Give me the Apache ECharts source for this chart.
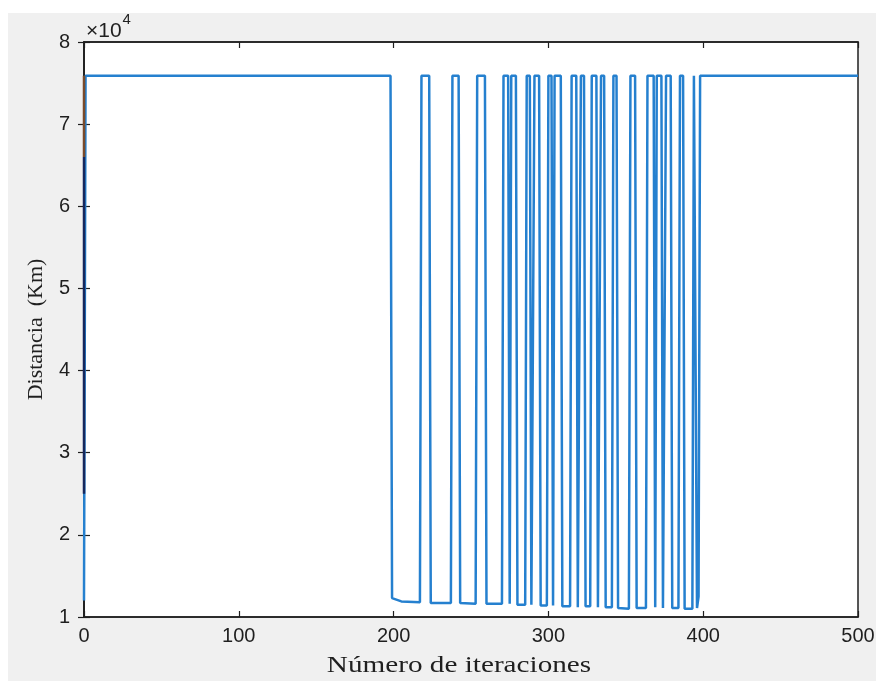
<!DOCTYPE html>
<html>
<head>
<meta charset="utf-8">
<script src="https://cdn.jsdelivr.net/npm/echarts@6/dist/echarts.min.js"></script>
<style>
  html, body { margin: 0; padding: 0; background: #ffffff; }
  #grafico { width: 881px; height: 681px; }
</style>
</head>
<body>
<div id="grafico"></div>
<script>
  // iteración -> distancia (km)
  const iteraciones = [
    0, 1, 198, 199, 205, 217,
    218, 223, 224, 237,
    238, 242, 243, 253,
    254, 259, 260, 270,
    271, 274, 275,
    276, 279, 280, 285,
    286, 288, 289, 290,
    291, 294, 295, 299,
    300, 302, 303,
    304, 308, 309, 314,
    315, 318, 319, 320,
    321, 323, 324, 327,
    328, 331, 332, 333,
    334, 336, 337, 341,
    342, 344, 345, 352,
    353, 356, 357, 363,
    364, 368, 369,
    370, 373, 374, 375,
    376, 379, 380, 384,
    385, 387, 388, 393,
    394, 395, 396, 397,
    398, 500
  ]
  const distancia = [
    12000, 75900, 75900, 12300, 11900, 11800,
    75900, 75900, 11700, 11700,
    75900, 75900, 11700, 11600,
    75900, 75900, 11600, 11600,
    75900, 75900, 11600,
    75900, 75900, 11500, 11500,
    75900, 75900, 11500, 11500,
    75900, 75900, 11400, 11400,
    75900, 75900, 11400,
    75900, 75900, 11300, 11300,
    75900, 75900, 11200, 11200,
    75900, 75900, 11300, 11300,
    75900, 75900, 11200, 11200,
    75900, 75900, 11200, 11200,
    75900, 75900, 11100, 11000,
    75900, 75900, 11100, 11100,
    75900, 75900, 11200,
    75900, 75900, 11100, 11100,
    75900, 75900, 11100, 11100,
    75900, 75900, 11000, 11000,
    75900, 75900, 11100, 12500,
    75900, 75900
  ]
  // tramos verticales iniciales en x = 0 (otras trazas superpuestas)
  const inicioOscuro = [[0, 25000], [0, 66000]]
  const inicioMarron = [[0, 66000], [0, 75900]]

  const xTicks = [0, 100, 200, 300, 400, 500]
  const yTicks = [1, 2, 3, 4, 5, 6, 7, 8]

  const colorEje = '#1f1f1f'
  const fuenteNum = 'Liberation Sans, Arial, sans-serif'
  const fuenteTitulo = 'Liberation Serif, Times New Roman, serif'

  const serieData = iteraciones.map((x, i) => [x, distancia[i]])

  const chart = echarts.init(document.getElementById('grafico'), null, { renderer: 'canvas' })

  const ejeBase = {
    axisLine: { show: true, lineStyle: { color: colorEje, width: 1.5 } },
    axisTick: { show: true, inside: true, length: 6, lineStyle: { color: colorEje, width: 1.2 } },
    splitLine: { show: false }
  }

  const option = {
    backgroundColor: '#ffffff',
    animation: false,
    graphic: [
      {
        type: 'rect',
        z: -10,
        silent: true,
        shape: { x: 8, y: 13, width: 868, height: 668 },
        style: { fill: '#f0f0f0' }
      },
      {
        type: 'text',
        left: 86,
        top: 12,
        z: 10,
        style: {
          text: '{a|×10}{b|4}',
          rich: {
            a: { fontFamily: fuenteNum, fontSize: 21, fill: colorEje, padding: [9, 0, 0, 0] },
            b: { fontFamily: fuenteNum, fontSize: 15, fill: colorEje, verticalAlign: 'top', padding: [0, 0, 0, 1] }
          }
        }
      },
      {
        // título del eje x, algo ensanchado como en la figura original
        type: 'text',
        x: 459,
        y: 666,
        scaleX: 1.27,
        z: 10,
        style: {
          text: 'Número de iteraciones',
          fontFamily: fuenteTitulo,
          fontSize: 23,
          fill: colorEje,
          align: 'center',
          verticalAlign: 'middle'
        }
      }
    ],
    grid: {
      left: 84,
      right: 23,
      top: 42,
      bottom: 64,
      show: true,
      backgroundColor: '#ffffff',
      borderColor: colorEje,
      borderWidth: 1.5
    },
    xAxis: [
      Object.assign({}, ejeBase, {
        type: 'value',
        min: xTicks[0],
        max: xTicks[xTicks.length - 1],
        interval: 100,
        position: 'bottom',
        axisLabel: { fontFamily: fuenteNum, fontSize: 20, color: colorEje, margin: 9 }
      }),
      Object.assign({}, ejeBase, {
        type: 'value',
        min: xTicks[0],
        max: xTicks[xTicks.length - 1],
        interval: 100,
        position: 'top',
        axisLabel: { show: false }
      })
    ],
    yAxis: [
      Object.assign({}, ejeBase, {
        type: 'value',
        min: yTicks[0] * 10000,
        max: yTicks[yTicks.length - 1] * 10000,
        interval: 10000,
        position: 'left',
        name: 'Distancia  (Km)',
        nameLocation: 'middle',
        nameGap: 37,
        nameTextStyle: { fontFamily: fuenteTitulo, fontSize: 22, color: colorEje },
        axisLabel: {
          fontFamily: fuenteNum, fontSize: 20, color: colorEje, margin: 14,
          formatter: v => String(v / 10000)
        }
      }),
      Object.assign({}, ejeBase, {
        type: 'value',
        min: yTicks[0] * 10000,
        max: yTicks[yTicks.length - 1] * 10000,
        interval: 10000,
        position: 'right',
        axisLabel: { show: false }
      })
    ],
    series: [
      {
        name: 'distancia',
        type: 'line',
        data: serieData,
        showSymbol: false,
        symbol: 'none',
        lineStyle: { color: '#2580cf', width: 2.5 },
        z: 3
      },
      {
        name: 'inicio oscuro',
        type: 'line',
        data: inicioOscuro,
        showSymbol: false,
        symbol: 'none',
        lineStyle: { color: '#16275c', width: 2.5 },
        z: 4
      },
      {
        name: 'inicio marron',
        type: 'line',
        data: inicioMarron,
        showSymbol: false,
        symbol: 'none',
        lineStyle: { color: '#7a4a2a', width: 2.5 },
        z: 4
      }
    ]
  }

  chart.setOption(option)
</script>
</body>
</html>
